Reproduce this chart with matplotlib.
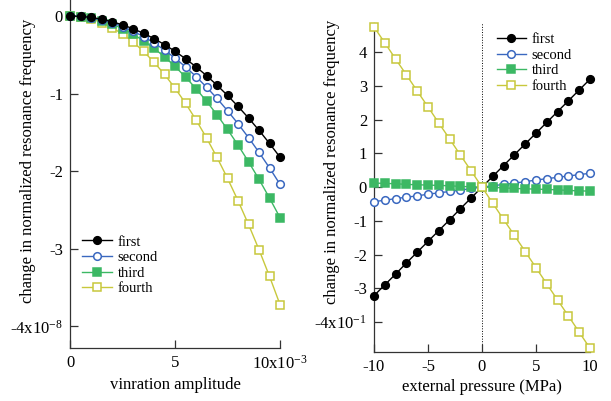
import numpy as np
from matplotlib import pyplot as plt
from matplotlib.ticker import FixedLocator, FixedFormatter

plt.rcParams['font.family'] = ['Liberation Serif', 'DejaVu Serif']
plt.rcParams['mathtext.default'] = 'regular'
plt.rcParams['axes.unicode_minus'] = False

# left panel: vibration amplitude (x1e-3) vs frequency change (x1e-8)
amp = [0, 0.5, 1, 1.5, 2, 2.5, 3, 3.5, 4, 4.5, 5, 5.5, 6, 6.5, 7, 7.5, 8, 8.5, 9, 9.5, 10]
amp_first = [0, -0.005, -0.018, -0.041, -0.073, -0.114, -0.164, -0.223, -0.291, -0.369, -0.455,
             -0.551, -0.655, -0.769, -0.892, -1.024, -1.165, -1.315, -1.474, -1.643, -1.82]
amp_second = [0, -0.005, -0.022, -0.049, -0.087, -0.136, -0.195, -0.266, -0.347, -0.439, -0.543,
              -0.656, -0.781, -0.917, -1.063, -1.221, -1.389, -1.568, -1.758, -1.958, -2.17]
amp_third = [0, -0.007, -0.026, -0.059, -0.104, -0.163, -0.234, -0.319, -0.416, -0.527, -0.65,
             -0.787, -0.936, -1.099, -1.274, -1.463, -1.664, -1.879, -2.106, -2.347, -2.6]
amp_fourth = [0, -0.009, -0.037, -0.084, -0.149, -0.233, -0.335, -0.456, -0.595, -0.753, -0.93,
              -1.125, -1.339, -1.572, -1.823, -2.093, -2.381, -2.688, -3.013, -3.357, -3.72]

# right panel: external pressure (MPa) vs frequency change (x1e-1)
press = [-10, -9, -8, -7, -6, -5, -4, -3, -2, -1, 0, 1, 2, 3, 4, 5, 6, 7, 8, 9, 10]
p_first = [-3.22, -2.9, -2.58, -2.25, -1.93, -1.61, -1.29, -0.97, -0.64, -0.32, 0,
           0.32, 0.64, 0.96, 1.28, 1.6, 1.92, 2.24, 2.56, 2.88, 3.2]
p_second = [-0.43, -0.39, -0.34, -0.3, -0.26, -0.21, -0.17, -0.13, -0.09, -0.04, 0,
            0.04, 0.08, 0.12, 0.16, 0.21, 0.25, 0.29, 0.33, 0.37, 0.41]
p_third = [0.12, 0.11, 0.1, 0.08, 0.07, 0.06, 0.05, 0.04, 0.02, 0.01, 0,
           -0.01, -0.02, -0.04, -0.05, -0.06, -0.07, -0.08, -0.1, -0.11, -0.12]
p_fourth = [4.75, 4.28, 3.8, 3.33, 2.85, 2.38, 1.9, 1.43, 0.95, 0.48, 0,
            -0.48, -0.96, -1.43, -1.91, -2.39, -2.87, -3.35, -3.82, -4.3, -4.78]

names = ['first', 'second', 'third', 'fourth']
col = ['black', '#3a68c0', '#3cb864', '#c8c83c']
mk = ['o', 'o', 's', 's']
face = ['black', 'white', '#3cb864', 'white']

fig = plt.figure(figsize=(6.11, 4.01), dpi=100)
ax1 = fig.add_axes([0.1146, 0.1322, 0.3437, 0.8666])
ax2 = fig.add_axes([0.6121, 0.1222, 0.3535, 0.8207])


def style(ax):
    for s in ['top', 'right']:
        ax.spines[s].set_visible(False)
    for s in ['left', 'bottom']:
        ax.spines[s].set_color('#333333')
        ax.spines[s].set_linewidth(0.9)
    ax.tick_params(direction='in', length=6, width=0.9, color='#333333', labelsize=12, pad=5)


left_series = [amp_first, amp_second, amp_third, amp_fourth]
for i in range(4):
    ax1.plot(amp, left_series[i], marker=mk[i], color=col[i], mfc=face[i], mec=col[i],
             ms=5.5, mew=1.1, lw=1.0, label=names[i], clip_on=False, zorder=3 + (3 - i))
ax1.set_xlim(0, 10)
ax1.set_ylim(-4.28, 0.2)
style(ax1)
ax1.xaxis.set_major_locator(FixedLocator([0, 5, 10]))
ax1.xaxis.set_major_formatter(FixedFormatter(['0', '5', '10x10$^{-3}$']))
ax1.yaxis.set_major_locator(FixedLocator([0, -1, -2, -3, -4]))
ax1.yaxis.set_major_formatter(FixedFormatter(['0', '-1', '-2', '-3', '-4x10$^{-8}$']))
ax1.set_xlabel('vinration amplitude', fontsize=12, labelpad=3)
ax1.set_ylabel('change in normalized resonance frequency', fontsize=12)
ax1.yaxis.set_label_coords(-0.163, 0.538)
ax1.legend(loc='upper left', bbox_to_anchor=(0.135, 0.413), bbox_transform=fig.transFigure,
           frameon=False, fontsize=10.5, handlelength=2.0, handletextpad=0.4,
           labelspacing=0.16, borderpad=0, borderaxespad=0)

right_series = [p_first, p_second, p_third, p_fourth]
ax2.axvline(0, color='black', ls=':', lw=0.7, zorder=1)
for i in range(4):
    ax2.plot(press, right_series[i], marker=mk[i], color=col[i], mfc=face[i], mec=col[i],
             ms=5.5, mew=1.1, lw=1.0, label=names[i], clip_on=False, zorder=3 + i)
ax2.set_xlim(-10, 10)
ax2.set_ylim(-4.89, 4.87)
style(ax2)
ax2.xaxis.set_major_locator(FixedLocator([-10, -5, 0, 5, 10]))
ax2.xaxis.set_major_formatter(FixedFormatter(['-10', '-5', '0', '5', '10']))
ax2.yaxis.set_major_locator(FixedLocator([4, 3, 2, 1, 0, -1, -2, -3, -4]))
ax2.yaxis.set_major_formatter(FixedFormatter(['4', '3', '2', '1', '0', '-1', '-2', '-3', '-4x10$^{-1}$']))
ax2.set_xlabel('external pressure (MPa)', fontsize=12, labelpad=3)
ax2.set_ylabel('change in normalized resonance frequency', fontsize=12)
ax2.yaxis.set_label_coords(-0.158, 0.577)
ax2.legend(loc='upper left', bbox_to_anchor=(0.813, 0.918), bbox_transform=fig.transFigure,
           frameon=False, fontsize=10.5, handlelength=2.0, handletextpad=0.4,
           labelspacing=0.16, borderpad=0, borderaxespad=0)

fig.savefig('out.png', dpi=100)
